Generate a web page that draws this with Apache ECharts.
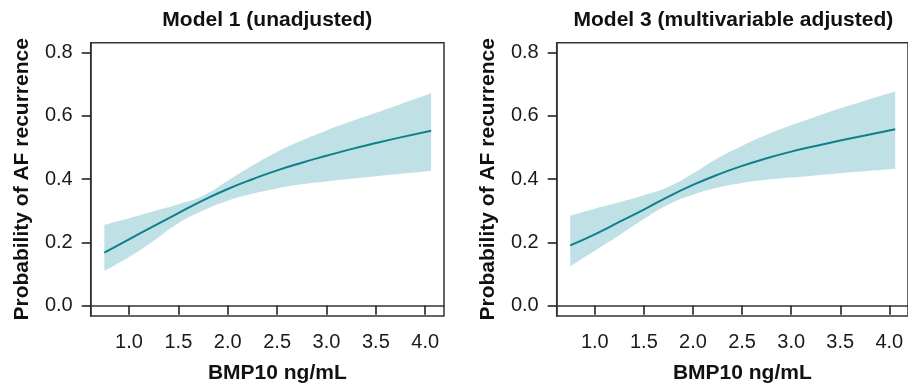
<!DOCTYPE html>
<html>
<head>
<meta charset="utf-8">
<script src="https://cdn.jsdelivr.net/npm/echarts@6/dist/echarts.min.js"></script>
<style>
  html, body { margin: 0; padding: 0; background: #fff; }
  #chart { width: 908px; height: 389px; }
</style>
</head>
<body>
<div id="chart"></div>
<script>
// BMP10 values where the curves were read
const bmp10 = [0.75, 1.0, 1.25, 1.5, 1.75, 2.0, 2.25, 2.5, 2.75, 3.0, 3.25, 3.5, 3.75, 4.06]

// Model 1 (unadjusted)
const m1Fit = [0.168, 0.210, 0.252, 0.293, 0.333, 0.369, 0.400, 0.428, 0.452, 0.474, 0.495, 0.514, 0.532, 0.553]
const m1Upper = [0.256, 0.277, 0.299, 0.321, 0.348, 0.395, 0.443, 0.486, 0.522, 0.554, 0.583, 0.610, 0.637, 0.671]
const m1Lower = [0.110, 0.154, 0.206, 0.261, 0.301, 0.332, 0.354, 0.371, 0.384, 0.393, 0.401, 0.409, 0.417, 0.427]

// Model 3 (multivariable adjusted)
const m3Fit = [0.191, 0.226, 0.265, 0.304, 0.345, 0.382, 0.414, 0.442, 0.466, 0.487, 0.505, 0.522, 0.538, 0.558]
const m3Upper = [0.285, 0.307, 0.327, 0.349, 0.376, 0.418, 0.466, 0.505, 0.540, 0.570, 0.597, 0.624, 0.648, 0.677]
const m3Lower = [0.125, 0.174, 0.223, 0.274, 0.320, 0.351, 0.373, 0.388, 0.398, 0.405, 0.412, 0.419, 0.425, 0.433]

const xTicks = [1.0, 1.5, 2.0, 2.5, 3.0, 3.5, 4.0]
const yTicks = [0.0, 0.2, 0.4, 0.6, 0.8]

const titles = ['Model 1 (unadjusted)', 'Model 3 (multivariable adjusted)']
const xName = 'BMP10 ng/mL'
const yName = 'Probability of AF recurrence'

const font = "'Liberation Sans', Arial, Helvetica, sans-serif"
const lineColor = '#0e7f8b'
const bandColor = '#bfe1e6'
const axisColor = '#222'

const grids = [
    {left: 90.7, top: 42.7, width: 353.3, height: 276.3},
    {left: 556.7, top: 42.7, width: 353.3, height: 276.3}
]

// rows are [y, x] so the stack runs on y (first numeric dimension)
const rowsYX = (ys) => bmp10.map((x, i) => [ys[i], x])
const diffYX = (up, lo) => bmp10.map((x, i) => [+(up[i] - lo[i]).toFixed(4), x])

const panels = [
    {fit: m1Fit, upper: m1Upper, lower: m1Lower},
    {fit: m3Fit, upper: m3Upper, lower: m3Lower}
]

const myChart = echarts.init(document.getElementById('chart'), null, {renderer: 'canvas'})

const option = {
    animation: false,
    backgroundColor: '#fff',
    textStyle: {fontFamily: font},
    title: titles.map((t, i) => ({
        text: t,
        left: grids[i].left + grids[i].width / 2,
        top: 10,
        padding: 0,
        textAlign: 'center',
        textStyle: {fontSize: 21, fontWeight: 'bold', color: '#111', fontFamily: font}
    })),
    grid: grids.map(g => ({
        ...g,
        show: true,
        borderColor: '#333',
        borderWidth: 1.5,
        backgroundColor: 'transparent'
    })),
    xAxis: grids.map((g, i) => ({
        type: 'value',
        gridIndex: i,
        min: 0.612,
        max: 4.19,
        name: xName,
        nameLocation: 'middle',
        nameGap: 47,
        nameTextStyle: {fontSize: 21, fontWeight: 'bold', color: '#111', fontFamily: font, padding: [0, 0, 0, 20]},
        axisLine: {show: true, lineStyle: {color: '#333', width: 1.5}},
        axisTick: {show: true, length: 9, inside: false, customValues: xTicks, lineStyle: {color: axisColor, width: 1.6}},
        axisLabel: {
            show: true,
            customValues: xTicks,
            margin: 16,
            fontSize: 20,
            color: '#1a1a1a',
            fontFamily: font,
            formatter: v => v.toFixed(1)
        },
        splitLine: {show: false}
    })),
    yAxis: grids.map((g, i) => ({
        type: 'value',
        gridIndex: i,
        min: -0.032,
        max: 0.831,
        name: yName,
        nameLocation: 'middle',
        nameGap: 58,
        nameTextStyle: {fontSize: 21, fontWeight: 'bold', color: '#111', fontFamily: font},
        axisLine: {show: true, lineStyle: {color: '#333', width: 1.5}},
        axisTick: {show: true, length: 9, inside: false, customValues: yTicks, lineStyle: {color: axisColor, width: 1.6}},
        axisLabel: {
            show: true,
            customValues: yTicks,
            margin: 18,
            fontSize: 20,
            color: '#1a1a1a',
            fontFamily: font,
            formatter: v => v.toFixed(1)
        },
        splitLine: {show: false}
    })),
    series: []
}

panels.forEach((p, i) => {
    option.series.push({
        name: 'lower' + i,
        type: 'line',
        xAxisIndex: i,
        yAxisIndex: i,
        stack: 'band' + i,
        smooth: true,
        symbol: 'none',
        encode: {x: 1, y: 0},
        lineStyle: {opacity: 0},
        areaStyle: {opacity: 0},
        data: rowsYX(p.lower),
        z: 1
    })
    option.series.push({
        name: 'band' + i,
        type: 'line',
        xAxisIndex: i,
        yAxisIndex: i,
        stack: 'band' + i,
        smooth: true,
        symbol: 'none',
        encode: {x: 1, y: 0},
        lineStyle: {opacity: 0},
        areaStyle: {color: bandColor, opacity: 1},
        data: diffYX(p.upper, p.lower),
        z: 2
    })
    option.series.push({
        name: 'fit' + i,
        type: 'line',
        xAxisIndex: i,
        yAxisIndex: i,
        smooth: true,
        symbol: 'none',
        lineStyle: {color: lineColor, width: 2},
        data: bmp10.map((x, k) => [x, p.fit[k]]),
        z: 3
    })
})

myChart.setOption(option)
</script>
</body>
</html>
